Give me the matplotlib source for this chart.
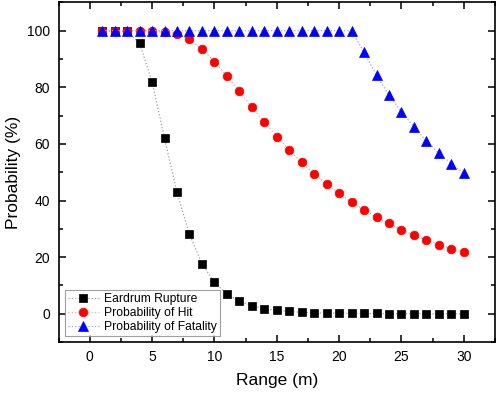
import matplotlib
matplotlib.use("Agg")
import matplotlib.pyplot as plt
from matplotlib.ticker import MultipleLocator

plt.rcParams['font.family'] = ['Liberation Sans', 'DejaVu Sans']

range_m = list(range(1, 31))
eardrum = [100, 100, 99.8, 95.5, 82, 62, 42.9, 28, 17.7, 11.1, 7.0, 4.4, 2.9, 1.8, 1.2,
           0.8, 0.5, 0.35, 0.25, 0.2, 0.15, 0.1, 0.1, 0.05, 0.05, 0.02, 0.02, 0.01, 0.01, 0.01]
hit = [100, 100, 100, 100, 99.8, 99.5, 98.8, 97, 93.5, 89, 84, 78.6, 73, 67.7, 62.6,
       57.8, 53.5, 49.4, 45.8, 42.5, 39.4, 36.7, 34.1, 31.9, 29.7, 27.7, 26.1, 24.4, 23.0, 21.7]
fatality = [100] * 21 + [92.3, 84.3, 77.2, 71.3, 66.1, 61, 56.8, 53, 49.7]

fig = plt.figure(figsize=(5, 3.95), dpi=100)
ax = fig.add_axes([0.117, 0.134, 0.873, 0.86])

ax.plot(range_m, eardrum, linestyle=':', color='#a0a0a0', lw=0.9, marker='s',
        markersize=5.4, markerfacecolor='black', markeredgecolor='black', markeredgewidth=0.5,
        label='Eardrum Rupture')
ax.plot(range_m, hit, linestyle=':', color='#ffa0a0', lw=0.9, marker='o',
        markersize=6.2, markerfacecolor='red', markeredgecolor='red', markeredgewidth=0.5,
        label='Probability of Hit')
ax.plot(range_m, fatality, linestyle=':', color='#a0a0ff', lw=0.9, marker='^',
        markersize=6.8, markerfacecolor='blue', markeredgecolor='blue', markeredgewidth=0.5,
        label='Probability of Fatality')

ax.set_xlim(-2.5, 32.5)
ax.set_ylim(-10, 110)
ax.xaxis.set_major_locator(MultipleLocator(5))
ax.xaxis.set_minor_locator(MultipleLocator(2.5))
ax.yaxis.set_major_locator(MultipleLocator(20))
ax.yaxis.set_minor_locator(MultipleLocator(10))
ax.tick_params(which='both', direction='in', top=True, right=True, width=1.1)
ax.tick_params(which='major', length=5, labelsize=10, pad=6)
ax.tick_params(which='minor', length=3)
for s in ax.spines.values():
    s.set_linewidth(1.2)

ax.set_xlabel('Range (m)', fontsize=12.5, labelpad=6)
ax.set_ylabel('Probability (%)', fontsize=12.5, labelpad=4)

leg = ax.legend(loc='lower left', fontsize=8.7, frameon=True, fancybox=False,
                edgecolor='#888888', borderaxespad=0.5, borderpad=0.25,
                labelspacing=0.15, handlelength=2.6, handletextpad=0.4)
leg.get_frame().set_linewidth(0.8)

fig.savefig('out.png', dpi=100)
